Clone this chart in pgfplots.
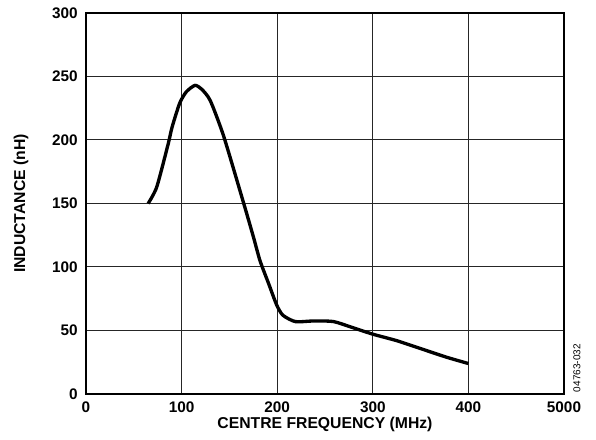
\documentclass[border=0pt]{standalone}
\usepackage{fontspec}
\setmainfont{Liberation Sans}
\usepackage{pgfplots}
\pgfplotsset{compat=1.18}
\begin{document}
\begin{tikzpicture}[x=0.75pt,y=0.75pt]
\useasboundingbox (0,0) rectangle (596,439);
\begin{axis}[
  at={(86*0.75pt,45*0.75pt)}, anchor=origin,
  scale only axis,
  width=478*0.75pt, height=381*0.75pt,
  xmin=0, xmax=500, ymin=0, ymax=300,
  xtick={0,100,200,300,400,500},
  xticklabels={0,100,200,300,400,5000},
  ytick={0,50,100,150,200,250,300},
  grid=major,
  major grid style={black!85, line width=0.75pt},
  axis line style={black, line width=1.5pt},
  tick style={draw=none},
  /pgf/number format/assume math mode=true,
  ticklabel style={font=\fontsize{11.5}{13}\selectfont\bfseries, inner sep=0pt},
  xticklabel style={anchor=center, yshift=-13*0.75pt},
  yticklabel style={anchor=east, xshift=-8*0.75pt},
  xlabel={CENTRE FREQUENCY (MHz)},
  ylabel={INDUCTANCE (nH)},
  label style={font=\fontsize{11.8}{13}\selectfont\bfseries, inner sep=0pt},
  xlabel style={at={(rel axis cs:0.5,0)}, anchor=center, yshift=-30*0.75pt},
  ylabel style={at={(rel axis cs:0,0.5)}, anchor=center, yshift=65*0.75pt},
  clip=false,
]
\addplot[black, line width=2.5pt, smooth, tension=0.4] coordinates {
(65,150) (74,163) (86,197) (90,210) (98,229) (105,238) (114,243) (121,240)
(130,231) (144,203) (165,150) (175,124) (182,105) (191,87) (199.5,70)
(206,62) (219,57) (238,57.5) (259,57) (280,52) (300.5,47) (325,42)
(349,36) (377,29) (400,24)
};
\node[rotate=90, font=\fontsize{7.5}{8}\selectfont, anchor=center, inner sep=0pt] at (rel axis cs:1.027,0.068) {04763-032};
\end{axis}
\end{tikzpicture}
\end{document}
